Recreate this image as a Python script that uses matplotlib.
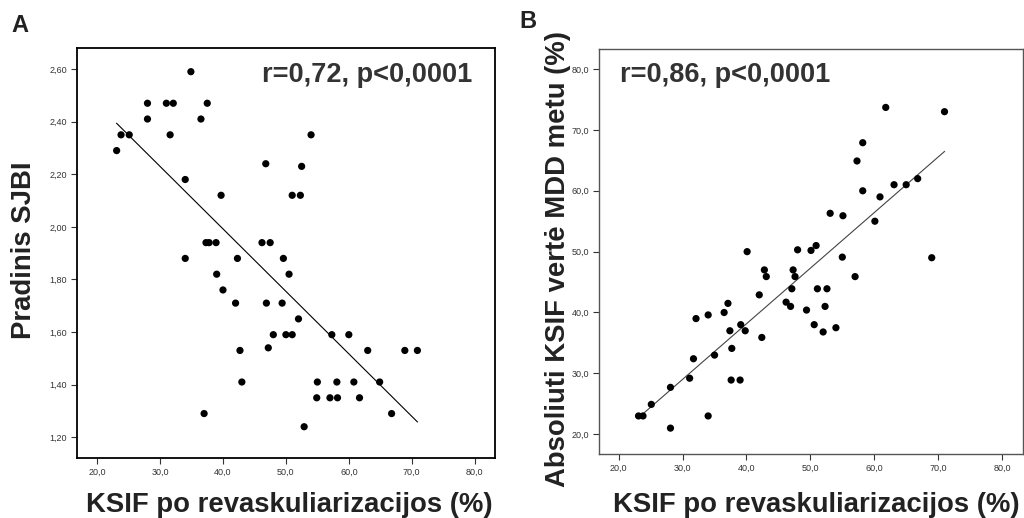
import numpy as np
import matplotlib
matplotlib.use("Agg")
import matplotlib.pyplot as plt

plt.rcParams['font.family'] = ['Liberation Sans', 'DejaVu Sans']

# Panel A: post-revascularisation KSIF (%) vs baseline SJBI
ksif_a = [23.1, 23.8, 25.1, 28.0, 28.0, 31.0, 32.1, 31.6, 34.9, 36.5, 37.5,
          34.0, 39.7, 37.3, 37.8, 38.9, 46.2, 47.5, 46.8, 51.0, 52.3, 52.5,
          54.0, 34.0, 42.3, 49.6, 39.0, 40.0, 42.0, 46.9, 49.4, 50.5, 52.0,
          48.0, 50.0, 51.0, 57.3, 60.0, 47.2, 42.7, 63.0, 68.9, 70.9, 43.0,
          55.0, 58.1, 60.8, 64.9, 54.9, 57.0, 58.2, 61.7, 37.0, 66.8, 52.9]
sjbi_a = [2.29, 2.35, 2.35, 2.47, 2.41, 2.47, 2.47, 2.35, 2.59, 2.41, 2.47,
          2.18, 2.12, 1.94, 1.94, 1.94, 1.94, 1.94, 2.24, 2.12, 2.12, 2.23,
          2.35, 1.88, 1.88, 1.88, 1.82, 1.76, 1.71, 1.71, 1.71, 1.82, 1.65,
          1.59, 1.59, 1.59, 1.59, 1.59, 1.54, 1.53, 1.53, 1.53, 1.53, 1.41,
          1.41, 1.41, 1.41, 1.41, 1.35, 1.35, 1.35, 1.35, 1.29, 1.29, 1.24]

# Panel B: post-revascularisation KSIF (%) vs absolute KSIF during stress test (%)
ksif_b = [61.8, 71.0, 58.2, 57.3, 58.2, 63.1, 65.0, 66.8, 60.9, 53.1, 55.1,
          60.1, 40.1, 48.0, 50.1, 50.9, 55.0, 69.0, 42.8, 43.1, 47.3, 47.6,
          57.0, 42.0, 47.1, 51.1, 52.6, 46.2, 46.9, 52.3, 49.4, 37.1, 36.5,
          34.0, 32.1, 39.1, 39.8, 37.4, 50.6, 52.0, 54.0, 42.4, 37.7, 35.0,
          31.7, 31.1, 37.6, 39.0, 28.1, 25.1, 23.1, 23.8, 34.0, 28.1]
mdd_b = [73.7, 73.0, 67.9, 64.9, 60.0, 61.0, 61.0, 62.0, 59.0, 56.3, 55.9,
         55.0, 50.0, 50.3, 50.2, 51.0, 49.1, 49.0, 47.0, 45.9, 47.0, 45.9,
         45.9, 42.9, 43.9, 43.9, 43.9, 41.7, 41.0, 41.0, 40.4, 41.5, 40.0,
         39.6, 39.0, 38.0, 37.0, 37.0, 38.0, 36.8, 37.5, 35.9, 34.1, 33.0,
         32.4, 29.2, 28.9, 28.9, 27.7, 24.9, 23.0, 23.0, 23.0, 21.0]

x_ticks = [20, 30, 40, 50, 60, 70, 80]
y_ticks_a = [1.20, 1.40, 1.60, 1.80, 2.00, 2.20, 2.40, 2.60]
y_ticks_b = [20, 30, 40, 50, 60, 70, 80]

label_x = "KSIF po revaskuliarizacijos (%)"
label_ya = "Pradinis SJBI"
label_yb = "Absoliuti KSIF vertė MDD metu (%)"
stat_a = "r=0,72, p<0,0001"
stat_b = "r=0,86, p<0,0001"


def comma(v, nd):
    return f"{v:.{nd}f}".replace(".", ",")


def style_axes(ax, spine_color, spine_w):
    for side in ("top", "right", "left", "bottom"):
        ax.spines[side].set_color(spine_color)
        ax.spines[side].set_linewidth(spine_w)
    ax.tick_params(direction="out", length=4, width=0.8, color="#333333",
                   labelsize=6.5, labelcolor="#333333", pad=3,
                   top=False, right=False)


def fit_line(ax, x, y, color):
    x = np.asarray(x)
    y = np.asarray(y)
    k, b = np.polyfit(x, y, 1)
    xs = np.array([x.min(), x.max()])
    ax.plot(xs, k * xs + b, color=color, lw=0.8, zorder=2)


fig = plt.figure(figsize=(10.24, 5.18), dpi=100)

# ---- Panel A ----
ax1 = fig.add_axes([0.0752, 0.1158, 0.408, 0.7915])
ax1.scatter(ksif_a, sjbi_a, s=27, color="black", edgecolors="none", zorder=3)
fit_line(ax1, ksif_a, sjbi_a, "black")
ax1.set_xlim(16.8, 83.2)
ax1.set_ylim(1.121, 2.68)
ax1.set_xticks(x_ticks)
ax1.set_xticklabels([comma(v, 1) for v in x_ticks])
ax1.set_yticks(y_ticks_a)
ax1.set_yticklabels([comma(v, 2) for v in y_ticks_a])
style_axes(ax1, "black", 1.3)
ax1.text(0.945, 0.935, stat_a, transform=ax1.transAxes, ha="right", va="center",
         fontsize=19.5, fontweight="bold", color="#333333")

# ---- Panel B ----
ax2 = fig.add_axes([0.5847, 0.123, 0.4144, 0.7824])
ax2.scatter(ksif_b, mdd_b, s=27, color="black", edgecolors="none", zorder=3)
fit_line(ax2, ksif_b, mdd_b, "#444444")
ax2.set_xlim(16.87, 83.3)
ax2.set_ylim(16.7, 83.3)
ax2.set_xticks(x_ticks)
ax2.set_xticklabels([comma(v, 1) for v in x_ticks])
ax2.set_yticks(y_ticks_b)
ax2.set_yticklabels([comma(v, 1) for v in y_ticks_b])
style_axes(ax2, "#555555", 1.0)
ax2.text(0.05, 0.935, stat_b, transform=ax2.transAxes, ha="left", va="center",
         fontsize=19.5, fontweight="bold", color="#333333")

# ---- Axis titles and panel letters ----
W, H = 1024.0, 518.0
fig.text(289 / W, 1 - 505 / H, label_x, ha="center", va="center",
         fontsize=19.8, fontweight="bold", color="#222222")
fig.text(816 / W, 1 - 505 / H, label_x, ha="center", va="center",
         fontsize=19.8, fontweight="bold", color="#222222")
fig.text(24 / W, 1 - 250 / H, label_ya, ha="center", va="center", rotation=90,
         fontsize=19.8, fontweight="bold", color="#222222")
fig.text(558 / W, 1 - 259 / H, label_yb, ha="center", va="center", rotation=90,
         fontsize=19.8, fontweight="bold", color="#222222", zorder=5)
fig.text(20 / W, 1 - 25 / H, "A", ha="center", va="center",
         fontsize=17, fontweight="bold", color="#222222")
fig.text(528 / W, 1 - 22 / H, "B", ha="center", va="center",
         fontsize=17, fontweight="bold", color="#222222")

fig.savefig("out.png", dpi=100, facecolor="white")
